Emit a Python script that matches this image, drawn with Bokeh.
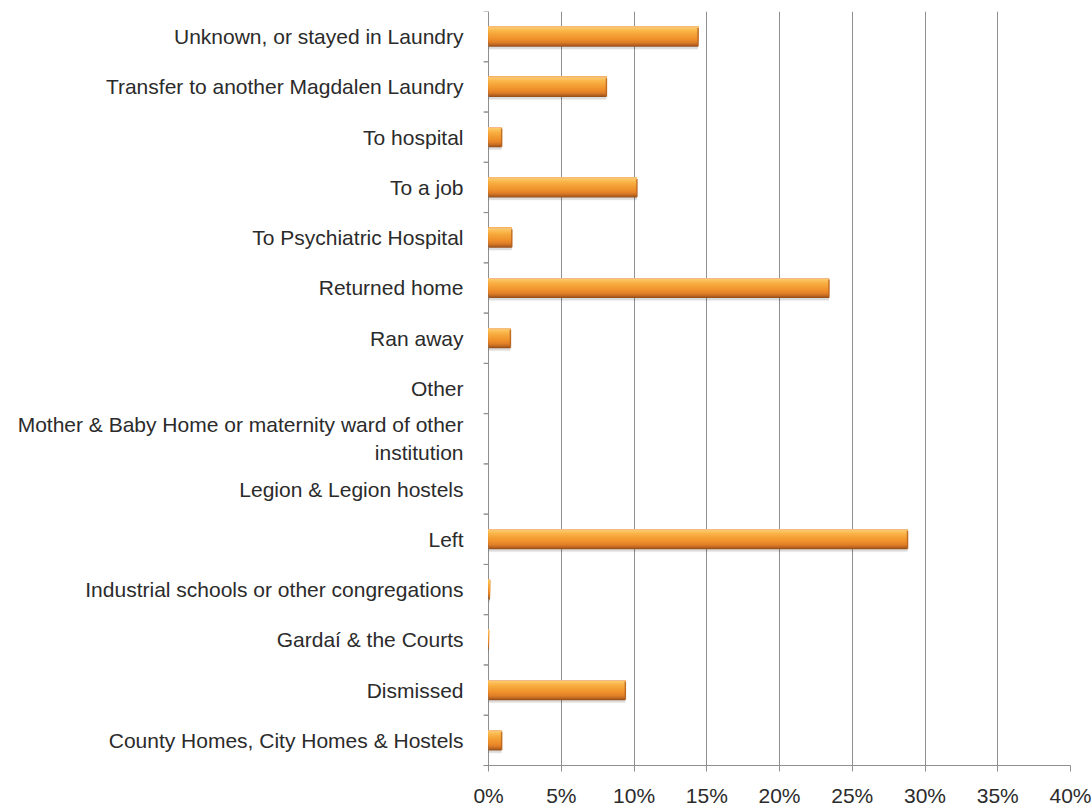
from bokeh.plotting import figure
from bokeh.models import (FactorRange, Range1d, FixedTicker, PrintfTickFormatter, ColumnDataSource)
from bokeh.transform import dodge
from bokeh.embed import file_html
from bokeh.resources import INLINE

categories = [
    "Unknown, or stayed in Laundry",
    "Transfer to another Magdalen Laundry",
    "To hospital",
    "To a job",
    "To Psychiatric Hospital",
    "Returned home",
    "Ran away",
    "Other",
    "Mother & Baby Home or maternity ward of other\ninstitution",
    "Legion & Legion hostels",
    "Left",
    "Industrial schools or other congregations",
    "Gardaí & the Courts",
    "Dismissed",
    "County Homes, City Homes & Hostels",
]
percent = [14.4, 8.1, 0.9, 10.2, 1.6, 23.4, 1.5, 0.0, 0.0, 0.0, 28.8, 0.1, 0.03, 9.4, 0.9]
x_ticks = [0, 5, 10, 15, 20, 25, 30, 35, 40]

FONT = "Liberation Sans"
TEXT = "#2b2b2b"
GRID = "#8f8f8f"
TICK_LEN = 0.35  # left axis tick length, in x units (~5px)

src = ColumnDataSource(dict(cat=categories, val=percent,
                            zero=[0.0] * len(categories),
                            tick0=[-TICK_LEN] * len(categories)))
# bars wide enough to show an end cap
cap_idx = [i for i, v in enumerate(percent) if v >= 0.5]
cap_src = ColumnDataSource(dict(cat=[categories[i] for i in cap_idx],
                                val=[percent[i] for i in cap_idx]))

p = figure(width=1092, height=809, output_backend="svg", toolbar_location=None,
           y_range=FactorRange(factors=categories[::-1]), x_range=Range1d(-TICK_LEN, 40),
           min_border_left=483, min_border_right=22, min_border_top=11, min_border_bottom=44)
p.outline_line_color = None
p.background_fill_color = "white"
p.border_fill_color = "white"

# grid (the 0% grid line doubles as the left axis line)
p.ygrid.grid_line_color = None
p.xgrid.ticker = FixedTicker(ticks=x_ticks)
p.xgrid.grid_line_color = GRID
p.xgrid.grid_line_width = 1

# x axis
xa = p.xaxis[0]
xa.ticker = FixedTicker(ticks=x_ticks)
xa.formatter = PrintfTickFormatter(format="%d%%")
xa.axis_line_color = GRID
xa.major_tick_line_color = GRID
xa.major_tick_out = 6
xa.major_tick_in = 0
xa.minor_tick_line_color = None
xa.major_label_text_font = FONT
xa.major_label_text_font_size = "21px"
xa.major_label_text_color = TEXT
xa.major_label_standoff = 12

# y axis: labels only
ya = p.yaxis[0]
ya.axis_line_color = None
ya.major_tick_line_color = None
ya.major_tick_out = 0
ya.major_tick_in = 0
ya.major_label_text_font = FONT
ya.major_label_text_font_size = "21px"
ya.major_label_text_color = TEXT
ya.major_label_standoff = 20

# category boundary ticks on the left axis
for off in (0.5, -0.5):
    p.segment(x0="tick0", x1="zero", y0=dodge("cat", off, range=p.y_range),
              y1=dodge("cat", off, range=p.y_range), source=src,
              line_color=GRID, line_width=1)

# bars: soft shadow
BAR_H = 0.40
for dy, dh, a in [(-0.11, 0.30, 0.04), (-0.08, 0.34, 0.05), (-0.05, 0.38, 0.05)]:
    p.hbar(y=dodge("cat", dy, range=p.y_range), right="val", left=0, height=dh,
           source=src, fill_color="black", fill_alpha=a, line_color=None)

# bevel-like vertical gradient (style only): overlapping layers anchored at the bar top
stops = [(0, (0xf3, 0xb9, 0x8a)), (1, (0xfc, 0xc8, 0x66)), (4, (0xf9, 0xb3, 0x47)),
         (8, (0xf4, 0xa0, 0x36)), (12, (0xee, 0x8f, 0x2b)), (15, (0xe0, 0x7f, 0x27)),
         (17, (0xc4, 0x6b, 0x22)), (19, (0x9a, 0x52, 0x1c))]

def strip_color(px):
    for (a, ca), (b, cb) in zip(stops[:-1], stops[1:]):
        if a <= px <= b:
            t = (px - a) / (b - a)
            return "#%02x%02x%02x" % tuple(int(round(u + (v - u) * t)) for u, v in zip(ca, cb))
    return "#%02x%02x%02x" % stops[-1][1]

for px in range(19, -1, -1):
    h = (px + 1) / 50.0
    off = BAR_H / 2 - h / 2
    p.hbar(y=dodge("cat", off, range=p.y_range), right="val", left=0, height=h,
           source=src, fill_color=strip_color(px), line_color=None)

# darker right end of each bar
p.segment(x0="val", x1="val", y0=dodge("cat", -0.19, range=p.y_range),
          y1=dodge("cat", 0.17, range=p.y_range), source=cap_src,
          line_color="#b5621f", line_width=1.5, line_alpha=0.8)

open("out.html", "w").write(file_html(p, INLINE))
